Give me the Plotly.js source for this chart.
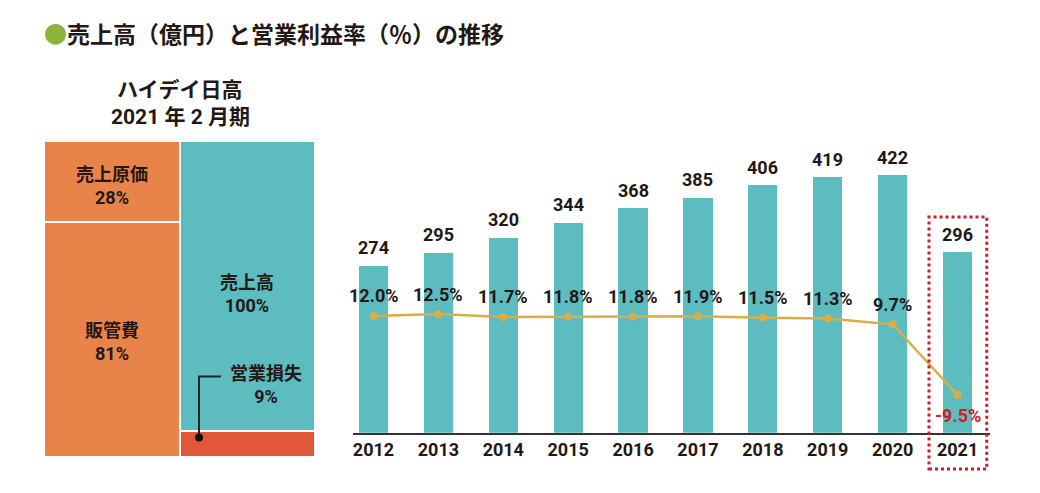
<!DOCTYPE html>
<html>
<head>
<meta charset="utf-8">
<script src="https://cdn.plot.ly/plotly-3.0.1.min.js"></script>
<style>
html,body{margin:0;padding:0;background:#fff;}
#chart{width:1040px;height:493px;}
</style>
</head>
<body>
<div id="chart"></div>
<script>
// ---- data ----
const years = ['2012','2013','2014','2015','2016','2017','2018','2019','2020','2021'];
const sales = [274, 295, 320, 344, 368, 385, 406, 419, 422, 296];          // 売上高（億円）
const opMargin = [12.0, 12.5, 11.7, 11.8, 11.8, 11.9, 11.5, 11.3, 9.7, -9.5]; // 営業利益率（％）

// 2021年2月期 構成（%）
const boxCols = [0, 1];
const bottomLabels = ['販管費', '営業損失'];
const bottomValues = [81, 9];
const topLabels = ['売上原価', '売上高'];
const topValues = [28, 100];

const titleText = '売上高（億円）と営業利益率（％）の推移';
const subTitle1 = 'ハイデイ日高';
const subTitle2 = '2021 年 2 月期';

// ---- style ----
const W = 1040, H = 493;
const px = v => v / W;
const py = v => 1 - v / H;
const TEXT = '#231815';
const ORANGE = '#E8834A';
const TEAL = '#5CBCC0';
const RED_BLOCK = '#E1573A';
const GOLD = '#D8AE48';
const RED = '#C8202C';
const FONT = "Roboto, 'Noto Sans CJK JP', sans-serif";
const JFONT = "'Noto Sans CJK JP', Roboto, sans-serif";

const traces = [
  {
    type: 'bar', x: years, y: sales, xaxis: 'x', yaxis: 'y',
    width: 0.45, marker: {color: TEAL}, hoverinfo: 'skip'
  },
  {
    type: 'scatter', mode: 'lines+markers', x: years, y: opMargin, xaxis: 'x', yaxis: 'y2',
    line: {color: GOLD, width: 2.5}, marker: {color: GOLD, size: 8}, hoverinfo: 'skip', cliponaxis: false
  },
  {
    type: 'bar', x: boxCols, y: bottomValues, xaxis: 'x3', yaxis: 'y3', width: 1,
    marker: {color: [ORANGE, RED_BLOCK], line: {color: '#ffffff', width: 2}}, hoverinfo: 'skip'
  },
  {
    type: 'bar', x: boxCols, y: topValues, xaxis: 'x3', yaxis: 'y3', width: 1,
    marker: {color: [ORANGE, TEAL], line: {color: '#ffffff', width: 2}}, hoverinfo: 'skip'
  }
];

const annotations = [];
// title
annotations.push({
  xref: 'paper', yref: 'paper', x: px(42), y: py(33), xanchor: 'left', yanchor: 'middle',
  text: '<span style="color:#8DB23C">●</span>' + titleText, showarrow: false,
  font: {family: JFONT, size: 23, color: TEXT, weight: 700}
});
annotations.push({
  xref: 'paper', yref: 'paper', x: px(180), y: py(88), xanchor: 'center', yanchor: 'middle',
  text: subTitle1, showarrow: false, font: {family: JFONT, size: 21, color: TEXT, weight: 700}
});
annotations.push({
  xref: 'paper', yref: 'paper', x: px(180), y: py(117), xanchor: 'center', yanchor: 'middle',
  text: subTitle2, showarrow: false, font: {family: FONT, size: 21, color: TEXT, weight: 700}
});
// box labels
annotations.push({
  xref: 'x3', yref: 'y3', x: boxCols[0], y: bottomValues[0] + topValues[0] / 2, yshift: -4,
  text: topLabels[0] + '<br>' + topValues[0] + '%', showarrow: false,
  font: {family: FONT, size: 18, color: TEXT, weight: 700}
});
annotations.push({
  xref: 'x3', yref: 'y3', x: boxCols[0], y: bottomValues[0] / 2, yshift: -2,
  text: bottomLabels[0] + '<br>' + bottomValues[0] + '%', showarrow: false,
  font: {family: FONT, size: 18, color: TEXT, weight: 700}
});
annotations.push({
  xref: 'x3', yref: 'y3', x: boxCols[1], y: bottomValues[1] + topValues[1] / 2, yshift: -8,
  text: topLabels[1] + '<br>' + topValues[1] + '%', showarrow: false,
  font: {family: FONT, size: 18, color: TEXT, weight: 700}
});
annotations.push({
  xref: 'paper', yref: 'paper', x: px(266), y: py(385), xanchor: 'center', yanchor: 'middle',
  text: bottomLabels[1] + '<br>' + bottomValues[1] + '%', showarrow: false,
  font: {family: FONT, size: 18, color: TEXT, weight: 700}
});
// bar values and margin labels (x given as category index)
years.forEach((yr, i) => {
  annotations.push({
    xref: 'x', yref: 'y', x: i, y: sales[i], yshift: 18, yanchor: 'middle',
    text: String(sales[i]), showarrow: false,
    font: {family: FONT, size: 18, color: TEXT, weight: 700}
  });
  const neg = opMargin[i] < 0;
  annotations.push({
    xref: 'x', yref: 'y2', x: i, y: opMargin[i], yshift: neg ? -21 : 20, yanchor: 'middle',
    text: opMargin[i].toFixed(1) + '%', showarrow: false,
    font: {family: FONT, size: 18, color: neg ? RED : TEXT, weight: 700}
  });
});

const shapes = [
  // connector for 営業損失
  {type: 'path', xref: 'paper', yref: 'paper',
   path: `M ${px(199)} ${py(437.5)} L ${px(199)} ${py(376.5)} L ${px(221)} ${py(376.5)}`,
   line: {color: '#1B2626', width: 2}},
  {type: 'circle', xref: 'paper', yref: 'paper',
   x0: px(195), x1: px(203), y0: py(441.5), y1: py(433.5),
   fillcolor: '#111', line: {width: 0}},
  // red dotted highlight around 2021
  {type: 'rect', xref: 'x', yref: 'paper', x0: 8.56, x1: 9.45, y0: py(469), y1: py(217),
   line: {color: RED, width: 3, dash: 'dot'}, fillcolor: 'rgba(0,0,0,0)'}
];

const layout = {
  width: W, height: H,
  margin: {l: 0, r: 0, t: 0, b: 0},
  paper_bgcolor: '#ffffff', plot_bgcolor: 'rgba(0,0,0,0)',
  showlegend: false, barmode: 'stack',
  xaxis: {
    domain: [px(353), px(990)], type: 'category', range: [-0.316, 9.5], anchor: 'y',
    showline: true, linecolor: '#333333', linewidth: 2, ticks: '', showgrid: false, zeroline: false,
    tickfont: {family: FONT, size: 18, color: TEXT, weight: 700}, fixedrange: true
  },
  yaxis: {domain: [py(432.7), py(140)], range: [0, 480], visible: false, fixedrange: true},
  yaxis2: {overlaying: 'y', range: [-19.75, 59.8], visible: false, fixedrange: true},
  xaxis3: {domain: [px(44), px(315)], range: [-0.5, 1.5], visible: false, anchor: 'y3', fixedrange: true},
  yaxis3: {domain: [py(457.3), py(141)], range: [0, 109], visible: false, anchor: 'x3', fixedrange: true},
  annotations: annotations,
  shapes: shapes
};

Plotly.newPlot('chart', traces, layout, {displayModeBar: false, staticPlot: true});
</script>
</body>
</html>
